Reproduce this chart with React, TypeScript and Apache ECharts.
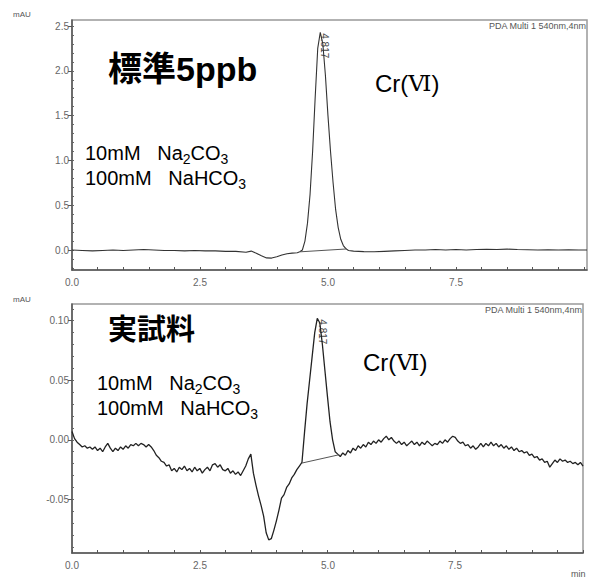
import React, { useEffect, useRef } from 'react';
import * as echarts from 'echarts';

// ---------- axis ticks / labels ----------
const xTickValues = [0, 0.5, 1, 1.5, 2, 2.5, 3, 3.5, 4, 4.5, 5, 5.5, 6, 6.5, 7, 7.5, 8, 8.5, 9, 9.5, 10];
const xLabelValues = [0, 2.5, 5, 7.5];
const topYMajor = [0, 0.5, 1.0, 1.5, 2.0, 2.5];
const topYMinor = [-0.2, -0.1, 0, 0.1, 0.2, 0.3, 0.4, 0.5, 0.6, 0.7, 0.8, 0.9, 1.0, 1.1, 1.2, 1.3, 1.4, 1.5, 1.6, 1.7, 1.8, 1.9, 2.0, 2.1, 2.2, 2.3, 2.4, 2.5];
const botYMajor = [-0.05, 0, 0.05, 0.1];
const botYMinor = [-0.09, -0.08, -0.07, -0.06, -0.05, -0.04, -0.03, -0.02, -0.01, 0, 0.01, 0.02, 0.03, 0.04, 0.05, 0.06, 0.07, 0.08, 0.09, 0.1, 0.11];
const topYRange = [-0.223, 2.567];
const botYRange = [-0.095, 0.114];

// ---------- top chromatogram (標準5ppb) ----------
const topTimes = [
  0.0, 0.2, 0.4, 0.6, 0.8, 1.0, 1.2, 1.4, 1.6, 1.8, 2.0, 2.2, 2.4, 2.6, 2.8, 3.0, 3.2, 3.4, 3.5, 3.6,
  3.7, 3.8, 3.9, 4.0, 4.1, 4.2, 4.3, 4.4, 4.45, 4.5, 4.55, 4.6, 4.65, 4.7, 4.75, 4.8, 4.85, 4.9, 4.95, 5.0,
  5.05, 5.1, 5.15, 5.2, 5.25, 5.3, 5.35, 5.4, 5.5, 5.7, 5.9, 6.1, 6.3, 6.5, 6.7, 6.9, 7.1, 7.3, 7.5, 7.7,
  7.9, 8.1, 8.3, 8.5, 8.7, 8.9, 9.1, 9.3, 9.5, 9.7, 9.9, 10.06,
];
const topValues = [
  0.0, -0.005, -0.01, -0.005, 0.0, -0.005, 0.0, 0.005, 0.0, -0.005, -0.005, -0.01, -0.005, -0.01, -0.01, -0.015, -0.015, -0.025, -0.012, -0.035,
  -0.065, -0.088, -0.09, -0.075, -0.055, -0.042, -0.035, -0.03, -0.02, 0.0, 0.1, 0.3, 0.62, 1.1, 1.7, 2.25, 2.43, 2.3, 1.95, 1.5,
  1.1, 0.75, 0.45, 0.25, 0.12, 0.05, 0.015, -0.005, -0.012, -0.018, -0.02, -0.015, -0.01, -0.005, 0.0, 0.0, 0.005, 0.0, 0.005, 0.0,
  0.005, 0.008, 0.005, 0.01, 0.005, 0.003, 0.0, 0.002, 0.0, 0.003, 0.0, 0.0,
];
const topBaseline = [[4.46, -0.02], [5.37, 0.012]];
const topPeak = [4.84, 2.43];

// ---------- bottom chromatogram (実試料), sampled every 0.05 min ----------
const bottomStep = 0.05;
const bottomValues = [
  0.007, 0.001, -0.002, -0.004, -0.006, -0.005, -0.007, -0.006, -0.008, -0.006,
  -0.009, -0.007, -0.010, -0.006, -0.003, -0.007, -0.010, -0.007, -0.009, -0.006,
  -0.008, -0.005, -0.007, -0.004, -0.005, -0.003, -0.005, -0.003, -0.004, -0.006,
  -0.004, -0.006, -0.009, -0.013, -0.015, -0.018, -0.019, -0.022, -0.021, -0.026,
  -0.024, -0.027, -0.023, -0.025, -0.022, -0.026, -0.024, -0.027, -0.023, -0.026,
  -0.024, -0.028, -0.025, -0.023, -0.026, -0.021, -0.020, -0.023, -0.021, -0.025,
  -0.026, -0.024, -0.028, -0.026, -0.029, -0.027, -0.030, -0.026, -0.022, -0.016,
  -0.012, -0.028, -0.038, -0.047, -0.055, -0.064, -0.078, -0.084, -0.083, -0.076,
  -0.068, -0.059, -0.049, -0.046, -0.040, -0.037, -0.032, -0.029, -0.025, -0.022,
  -0.019, 0.006, 0.030, 0.050, 0.070, 0.090, 0.102, 0.098, 0.080, 0.058,
  0.036, 0.015, 0.000, -0.010, -0.012, -0.014, -0.011, -0.013, -0.009, -0.011,
  -0.007, -0.009, -0.005, -0.007, -0.004, -0.006, -0.002, -0.004, -0.001, -0.003,
  0.000, -0.002, 0.001, 0.003, 0.000, 0.002, -0.001, -0.003, -0.001, -0.004,
  -0.002, -0.005, -0.003, -0.001, -0.004, -0.002, -0.005, -0.002, -0.004, -0.001,
  -0.003, -0.005, -0.003, -0.004, -0.001, -0.003, 0.000, -0.002, 0.001, 0.003,
  0.002, -0.001, -0.003, -0.002, -0.005, -0.004, -0.007, -0.005, -0.008, -0.006,
  -0.003, -0.006, -0.003, -0.005, -0.002, -0.005, -0.003, -0.006, -0.004, -0.007,
  -0.005, -0.008, -0.006, -0.009, -0.007, -0.010, -0.009, -0.011, -0.010, -0.013,
  -0.012, -0.015, -0.014, -0.017, -0.016, -0.019, -0.018, -0.023, -0.020, -0.017,
  -0.019, -0.016, -0.018, -0.017, -0.019, -0.018, -0.020, -0.019, -0.021, -0.019,
  -0.022,
];
const bottomBaseline = [[4.5, -0.0195], [5.23, -0.0125]];
const bottomPeak = [4.8, 0.102];
const peakLabel = '4.817';

const LATIN = '"Liberation Sans", Arial, sans-serif';
const CJK = '"Liberation Sans", "Noto Sans CJK JP", sans-serif';

function xAxis(gridIndex: number, max: number, name: string) {
  return {
    type: 'value', gridIndex, min: 0, max,
    name, nameLocation: 'end', nameGap: -12,
    nameTextStyle: { color: '#555', fontSize: 9, fontFamily: LATIN, verticalAlign: 'top', padding: [16, 0, 0, 0] },
    axisLine: { show: true, onZero: false, lineStyle: { color: '#555', width: 1.5 } },
    axisTick: { show: true, inside: true, length: 3, customValues: xTickValues, lineStyle: { color: '#555' } },
    axisLabel: { show: false },
    splitLine: { show: false },
  };
}
function yAxes(gridIndex: number, range: number[], major: number[], minor: number[], digits: number) {
  return [
    {
      type: 'value', gridIndex, min: range[0], max: range[1],
      axisLine: { show: true, onZero: false, lineStyle: { color: '#555', width: 1.5 } },
      axisTick: { show: true, length: 4, customValues: major, lineStyle: { color: '#555' } },
      axisLabel: { customValues: major, showMaxLabel: true, showMinLabel: true, formatter: (v: number) => v.toFixed(digits), color: '#666', fontSize: 10, fontFamily: LATIN, margin: 3 },
      splitLine: { show: false },
    },
    {
      type: 'value', gridIndex, min: range[0], max: range[1],
      axisLine: { show: false },
      axisTick: { show: true, length: 2, customValues: minor, lineStyle: { color: '#666' } },
      axisLabel: { show: false },
      splitLine: { show: false },
    },
  ];
}

function sodaText(x: number, y: number) {
  const rich = {
    a: { fontSize: 20, fontFamily: LATIN, fill: '#000', lineHeight: 25 },
    s: { fontSize: 14, fontFamily: LATIN, fill: '#000', padding: [11, 0, 0, 0] },
  };
  return [
    { type: 'text', x, y, style: { text: '{a|10mM   Na}{s|2}{a|CO}{s|3}', rich, verticalAlign: 'middle' } },
    { type: 'text', x, y: y + 25, style: { text: '{a|100mM   NaHCO}{s|3}', rich, verticalAlign: 'middle' } },
  ];
}
function crText(x: number, y: number) {
  return {
    type: 'text', x, y,
    style: {
      text: '{a|Cr(}{r|Ⅵ}{a|)}', verticalAlign: 'middle',
      rich: {
        a: { fontSize: 24, fontFamily: LATIN, fill: '#000' },
        r: { fontSize: 23, fontFamily: '"DejaVu Serif", serif', fill: '#000' },
      },
    },
  };
}

export default function App() {
  const ref = useRef<HTMLDivElement>(null);
  useEffect(() => {
    document.body.style.margin = '0';
    const chart = echarts.init(ref.current!, null, { renderer: 'svg' });
    const topData = topTimes.map((t, i) => [t, topValues[i]]);
    const bottomData = bottomValues.map((v, i) => [+(i * bottomStep).toFixed(2), v]);
    chart.setOption({
      animation: false,
      grid: [
        { left: 72, top: 20, width: 515, height: 250, show: true, borderColor: '#999', borderWidth: 1.5 },
        { left: 72, top: 304, width: 511, height: 250, show: true, borderColor: '#999', borderWidth: 1.5 },
      ],
      xAxis: [xAxis(0, 10.06, ''), xAxis(1, 10, 'min')],
      yAxis: [
        ...yAxes(0, topYRange, topYMajor, topYMinor, 1),
        ...yAxes(1, botYRange, botYMajor, botYMinor, 2),
      ],
      series: [
        { type: 'line', xAxisIndex: 0, yAxisIndex: 0, data: topData, showSymbol: false, silent: true, lineStyle: { color: '#333', width: 1.1 } },
        { type: 'line', xAxisIndex: 0, yAxisIndex: 0, data: topBaseline, showSymbol: false, silent: true, lineStyle: { color: '#555', width: 1 } },
        { type: 'line', xAxisIndex: 1, yAxisIndex: 2, data: bottomData, showSymbol: false, silent: true, lineStyle: { color: '#222', width: 1.3 } },
        { type: 'line', xAxisIndex: 1, yAxisIndex: 2, data: bottomBaseline, showSymbol: false, silent: true, lineStyle: { color: '#555', width: 1 } },
      ],
    });
    const p1 = chart.convertToPixel({ seriesIndex: 0 }, topPeak) as number[];
    const p2 = chart.convertToPixel({ seriesIndex: 2 }, bottomPeak) as number[];
    const small = { fontSize: 8, fontFamily: LATIN, fill: '#555' };
    const peakText = (p: number[]) => ({
      type: 'text', x: p[0] + 5, y: p[1] + 1, rotation: -Math.PI / 2,
      style: { text: peakLabel, fontSize: 10, fontFamily: LATIN, fill: '#444', verticalAlign: 'middle', align: 'left' },
    });
    // x-axis tick labels of both panels, placed through each axis' own scale, on a top layer
    const xLabels: any[] = [];
    [{ s: 0, yMin: topYRange[0], tag: 't' }, { s: 2, yMin: botYRange[0], tag: 'b' }].forEach((g) => {
      xLabelValues.forEach((v, i) => {
        const p = chart.convertToPixel({ seriesIndex: g.s }, [v, g.yMin]) as number[];
        xLabels.push({
          type: 'text', id: 'xl' + g.tag + i, zlevel: 2, z: 100, x: Math.round(p[0]), y: Math.round(p[1]) + 7,
          style: { text: v.toFixed(1), fontSize: 10, fontFamily: LATIN, fill: '#666', align: 'center', verticalAlign: 'top' },
        });
      });
    });
    chart.setOption({
      graphic: [
        { type: 'text', x: 13, y: 10, style: { text: 'mAU', ...small } },
        { type: 'text', x: 13, y: 295, style: { text: 'mAU', ...small } },
        { type: 'text', x: 586, y: 26, style: { text: 'PDA Multi 1 540nm,4nm', ...small, fontSize: 9, align: 'right', verticalAlign: 'middle' } },
        { type: 'text', x: 582, y: 310, style: { text: 'PDA Multi 1 540nm,4nm', ...small, fontSize: 9, align: 'right', verticalAlign: 'middle' } },
        { type: 'text', x: 108, y: 69, style: { text: '標準5ppb', fontSize: 34, fontWeight: 'bold', fontFamily: CJK, fill: '#000', verticalAlign: 'middle' } },
        { type: 'text', x: 108, y: 330, style: { text: '実試料', fontSize: 29, fontWeight: 'bold', fontFamily: CJK, fill: '#000', verticalAlign: 'middle' } },
        ...sodaText(85, 153),
        ...sodaText(97, 383),
        crText(375, 83),
        crText(363, 362),
        peakText(p1),
        peakText(p2),
        ...xLabels,
      ],
    });
    return () => chart.dispose();
  }, []);
  return <div ref={ref} style={{ width: 592, height: 578 }} />;
}
